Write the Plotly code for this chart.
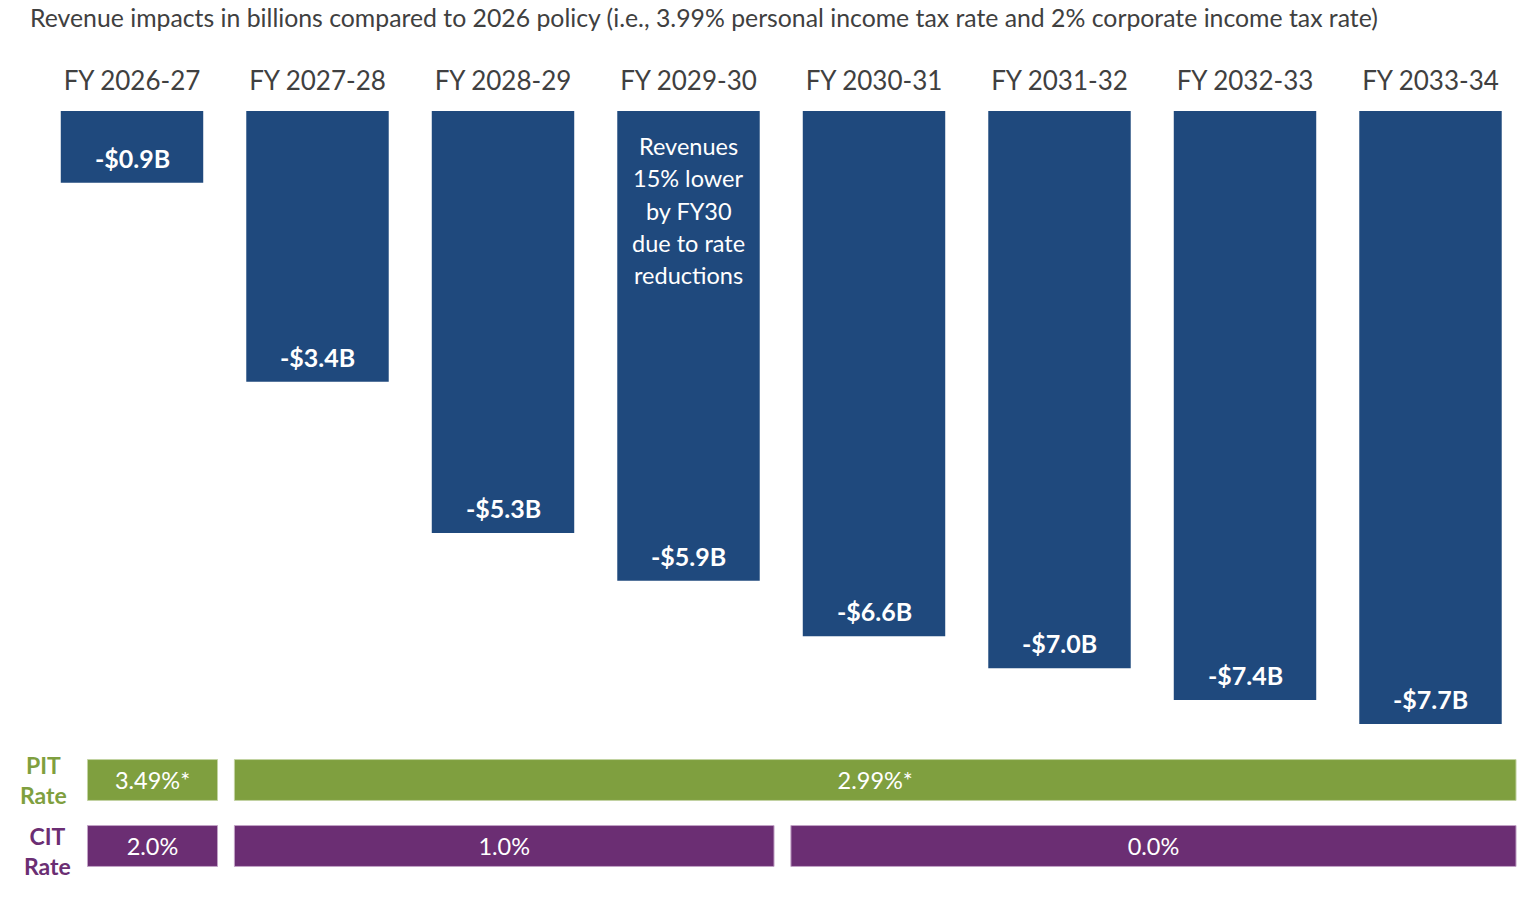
import plotly.graph_objects as go

# ---------------- data ----------------
fiscal_years = ["FY 2026-27", "FY 2027-28", "FY 2028-29", "FY 2029-30",
                "FY 2030-31", "FY 2031-32", "FY 2032-33", "FY 2033-34"]
revenue_impact_b = [-0.9, -3.4, -5.3, -5.9, -6.6, -7.0, -7.4, -7.7]
revenue_labels = ["-$0.9B", "-$3.4B", "-$5.3B", "-$5.9B", "-$6.6B", "-$7.0B", "-$7.4B", "-$7.7B"]

# rate segments: (label, first fiscal-year index, last fiscal-year index)
pit_labels = ["3.49%*", "2.99%*"]
pit_first = [0, 1]
pit_last = [0, 7]
cit_labels = ["2.0%", "1.0%", "0.0%"]
cit_first = [0, 1, 4]
cit_last = [0, 3, 7]

title_text = ("Revenue impacts in billions compared to 2026 policy (i.e., 3.99% personal "
              "income tax rate and 2% corporate income tax rate)")
callout_lines = ["Revenues", "15% lower", "by FY30", "due to rate", "reductions"]
callout_year_index = 3

# ---------------- style / layout ----------------
W, H = 1540, 900
FONT = "Lato, 'Open Sans', sans-serif"
NAVY = "#1f497d"
GREEN = "#7f9f3f"
PURPLE = "#6b2e73"
GREY = "#404040"

x0_px, pitch_px = 132.0, 185.5            # centre of first bar, spacing
x_range = [-x0_px / pitch_px, (W - x0_px) / pitch_px]
top_px, bottom_px, px_per_b = 111, 740, 79.6
y_range = [-(bottom_px - top_px) / px_per_b, 0]

half_gap = 0.042
left_clamp = -0.24


def seg_bounds(first, last):
    starts = [max(f - 0.5 + half_gap + 0.01, left_clamp) for f in first]
    ends = [l + 0.5 - half_gap + 0.003 for l in last]
    return starts, [e - s for s, e in zip(starts, ends)]


fig = go.Figure()

fig.add_trace(go.Bar(
    x=list(range(len(fiscal_years))), y=revenue_impact_b,
    width=0.768, marker=dict(color=NAVY, line=dict(width=0)),
    hoverinfo="skip", xaxis="x", yaxis="y",
))

# value labels just above the tip of each bar
for i, (val, lab) in enumerate(zip(revenue_impact_b, revenue_labels)):
    fig.add_annotation(
        x=i, y=val, xref="x", yref="y", text=lab, showarrow=False,
        xanchor="center", yanchor="middle", yshift=25,
        font=dict(family=FONT, size=25, color="white", weight="bold"),
    )

pit_base, pit_len = seg_bounds(pit_first, pit_last)
cit_base, cit_len = seg_bounds(cit_first, cit_last)

fig.add_trace(go.Bar(
    orientation="h", y=["PIT"] * len(pit_labels), x=pit_len, base=pit_base,
    width=0.62, marker=dict(color=GREEN, line=dict(color="#c3d3a2", width=1)),
    text=pit_labels, textposition="inside", insidetextanchor="middle",
    textangle=0, constraintext="none",
    insidetextfont=dict(family=FONT, size=23.5, color="white"),
    hoverinfo="skip", xaxis="x2", yaxis="y2",
))
fig.add_trace(go.Bar(
    orientation="h", y=["CIT"] * len(cit_labels), x=cit_len, base=cit_base,
    width=0.62, marker=dict(color=PURPLE, line=dict(color="#c2a3c6", width=1)),
    text=cit_labels, textposition="inside", insidetextanchor="middle",
    textangle=0, constraintext="none",
    insidetextfont=dict(family=FONT, size=23.5, color="white"),
    hoverinfo="skip", xaxis="x2", yaxis="y2",
))

for i, line in enumerate(callout_lines):
    fig.add_annotation(
        x=callout_year_index, y=0, xref="x", yref="y", text=line, showarrow=False,
        yanchor="middle", xanchor="center", yshift=-(35 + 32.3 * i), align="center",
        font=dict(family=FONT, size=23.5, color="white"),
    )
fig.add_annotation(
    x=43 / W, y=1 - 780 / H, xref="paper", yref="paper", text="PIT<br>Rate",
    showarrow=False, xanchor="center", yanchor="middle", align="center",
    font=dict(family=FONT, size=23, color=GREEN, weight="bold"),
)
fig.add_annotation(
    x=47 / W, y=1 - 851 / H, xref="paper", yref="paper", text="CIT<br>Rate",
    showarrow=False, xanchor="center", yanchor="middle", align="center",
    font=dict(family=FONT, size=23, color=PURPLE, weight="bold"),
)

fig.update_layout(
    width=W, height=H, margin=dict(l=0, r=0, t=0, b=0),
    paper_bgcolor="white", plot_bgcolor="white", showlegend=False,
    barmode="overlay",
    title=dict(text=title_text, x=30 / W, xanchor="left", xref="paper",
               y=1 - 18 / H, yref="container", yanchor="middle",
               font=dict(family=FONT, size=24.8, color=GREY)),
    xaxis=dict(range=x_range, side="top", tickmode="array",
               tickvals=list(range(len(fiscal_years))), ticktext=fiscal_years,
               tickfont=dict(family=FONT, size=26, color=GREY),
               showgrid=False, zeroline=False, showline=False, ticks="",
               ticklabelstandoff=15, anchor="y", fixedrange=True),
    yaxis=dict(range=y_range, domain=[1 - bottom_px / H, 1 - top_px / H],
               visible=False, fixedrange=True),
    xaxis2=dict(range=x_range, visible=False, anchor="y2", fixedrange=True),
    yaxis2=dict(domain=[1 - 879 / H, 1 - 747 / H], range=[-0.5, 1.5],
                categoryorder="array", categoryarray=["CIT", "PIT"],
                visible=False, anchor="x2", fixedrange=True),
)

fig.write_html("out.html", config={"displayModeBar": False},
               post_script="document.body.style.margin='0';document.body.style.overflow='hidden';")
